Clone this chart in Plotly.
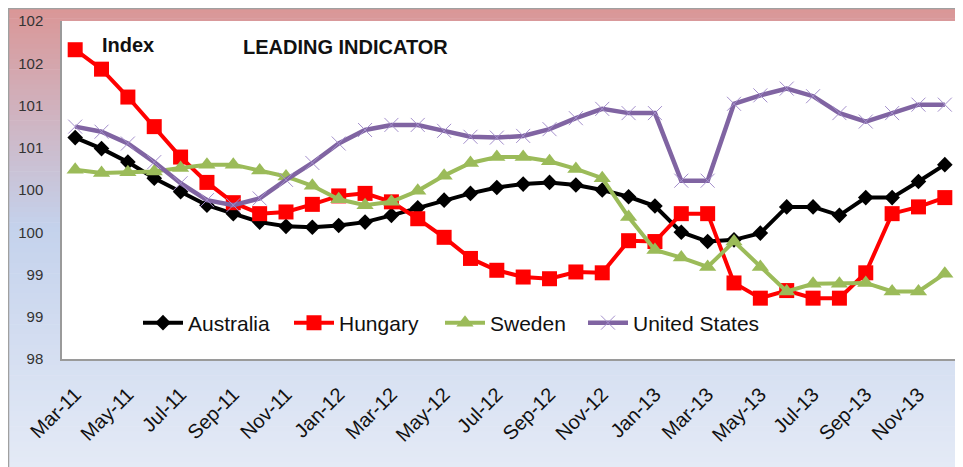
import plotly.graph_objects as go

months = ["Mar-11", "Apr-11", "May-11", "Jun-11", "Jul-11", "Aug-11", "Sep-11", "Oct-11",
          "Nov-11", "Dec-11", "Jan-12", "Feb-12", "Mar-12", "Apr-12", "May-12", "Jun-12",
          "Jul-12", "Aug-12", "Sep-12", "Oct-12", "Nov-12", "Dec-12", "Jan-13", "Feb-13",
          "Mar-13", "Apr-13", "May-13", "Jun-13", "Jul-13", "Aug-13", "Sep-13", "Oct-13",
          "Nov-13", "Dec-13"]

australia = [100.62, 100.49, 100.33, 100.14, 99.98, 99.82, 99.72, 99.62, 99.57, 99.56,
             99.58, 99.62, 99.70, 99.79, 99.88, 99.96, 100.03, 100.07, 100.09, 100.06,
             100.00, 99.92, 99.81, 99.50, 99.39, 99.41, 99.49, 99.80, 99.80, 99.70,
             99.91, 99.91, 100.10, 100.30]
hungary = [101.66, 101.43, 101.10, 100.75, 100.39, 100.09, 99.85, 99.72, 99.74, 99.83,
           99.93, 99.96, 99.86, 99.66, 99.44, 99.19, 99.05, 98.97, 98.95, 99.03,
           99.02, 99.40, 99.39, 99.72, 99.72, 98.90, 98.72, 98.81, 98.72, 98.72,
           99.02, 99.72, 99.80, 99.91]
sweden = [100.24, 100.20, 100.21, 100.22, 100.26, 100.30, 100.30, 100.23, 100.16, 100.05,
          99.89, 99.82, 99.86, 99.99, 100.17, 100.32, 100.39, 100.39, 100.34, 100.25,
          100.14, 99.68, 99.29, 99.20, 99.09, 99.39, 99.09, 98.80, 98.89, 98.89,
          98.90, 98.80, 98.80, 99.01]
united_states = [100.75, 100.69, 100.55, 100.33, 100.08, 99.88, 99.82, 99.90, 100.12, 100.32,
                 100.55, 100.71, 100.77, 100.77, 100.70, 100.63, 100.62, 100.64, 100.72, 100.85,
                 100.96, 100.91, 100.91, 100.11, 100.11, 101.02, 101.12, 101.20, 101.11, 100.91,
                 100.81, 100.91, 101.01, 101.01]

y_ticks = [98, 98.5, 99, 99.5, 100, 100.5, 101, 101.5, 102]
y_tick_text = ["98", "99", "99", "100", "100", "101", "101", "102", "102"]
x_ticks = months[::2]

# the page body adds an 8px margin, so the figure is laid out in page pixels minus OFF
OFF = 8
W, H = 963 - OFF, 467 - OFF
ML, MR, MT, MB = 62 - OFF, 5, 21 - OFF, 108
PW, PH = W - ML - MR, H - MT - MB


def px(x):
    # page x pixel -> paper coordinate
    return (x - OFF - ML) / PW


def py(y):
    # page y pixel -> paper coordinate
    return (H - MB - (y - OFF)) / PH


fig = go.Figure()

fig.add_trace(go.Scatter(x=months, y=australia, name="Australia", mode="lines+markers",
                         line=dict(color="black", width=4), legend="legend",
                         marker=dict(symbol="diamond", size=12, color="black")))
fig.add_trace(go.Scatter(x=months, y=hungary, name="Hungary", mode="lines+markers",
                         line=dict(color="#FF0000", width=4), legend="legend2",
                         marker=dict(symbol="square", size=15, color="#FF0000")))
fig.add_trace(go.Scatter(x=months, y=sweden, name="Sweden", mode="lines+markers",
                         line=dict(color="#9BBB59", width=4), legend="legend3",
                         marker=dict(symbol="triangle-up", size=15, color="#9BBB59")))
fig.add_trace(go.Scatter(x=months, y=united_states, name="United States", mode="lines+markers",
                         line=dict(color="#8064A2", width=4.5), legend="legend4",
                         marker=dict(symbol="x-thin", size=14,
                                     line=dict(color="#A48FCC", width=1))))

# background gradient (pink at top to pale blue at bottom)
stops = [(0.0, (218, 150, 150)), (0.48, (196, 210, 236)), (1.0, (228, 234, 246))]
n_bands = 90
top_px, left_px = 8, 8
shapes = []
for k in range(n_bands):
    t = (k + 0.5) / n_bands
    for (t0, c0), (t1, c1) in zip(stops[:-1], stops[1:]):
        if t0 <= t <= t1:
            f = (t - t0) / (t1 - t0)
            col = tuple(round(a + (b - a) * f) for a, b in zip(c0, c1))
            break
    y0 = top_px + (467 - top_px) * k / n_bands
    y1 = top_px + (467 - top_px) * (k + 1) / n_bands + 0.6
    shapes.append(dict(type="rect", xref="paper", yref="paper", layer="below",
                       x0=px(left_px), x1=px(975), y0=py(y1), y1=py(y0),
                       fillcolor="rgb(%d,%d,%d)" % col, line=dict(width=0)))
# white plot area
shapes.append(dict(type="rect", xref="paper", yref="paper", layer="below",
                   x0=0, x1=1, y0=0, y1=1, fillcolor="white", line=dict(width=0)))
# outer frame
shapes.append(dict(type="rect", xref="paper", yref="paper", layer="above",
                   x0=px(left_px + 0.5), x1=px(980), y0=py(480), y1=py(top_px + 0.5),
                   fillcolor="rgba(0,0,0,0)", line=dict(color="#A0A0A0", width=1.5)))


def legend_at(x_page):
    return dict(orientation="h", x=px(x_page), y=py(323), xanchor="left", yanchor="middle",
                bgcolor="rgba(0,0,0,0)", font=dict(size=21, color="#111"),
                itemwidth=40, borderwidth=0)


fig.update_layout(
    width=W, height=H,
    margin=dict(l=ML, r=MR, t=MT, b=MB),
    paper_bgcolor="white",
    plot_bgcolor="rgba(0,0,0,0)",
    font=dict(family="Arial, Liberation Sans, sans-serif", color="#1a1a1a"),
    shapes=shapes,
    showlegend=True,
    legend=legend_at(138),
    legend2=legend_at(289),
    legend3=legend_at(440),
    legend4=legend_at(583),
    annotations=[
        dict(text="<b>Index</b>", x=px(128), y=py(45), xref="paper", yref="paper",
             xanchor="center", yanchor="middle",
             showarrow=False, font=dict(size=20, color="#111")),
        dict(text="<b>LEADING INDICATOR</b>", x=px(345), y=py(47), xref="paper", yref="paper",
             xanchor="center", yanchor="middle",
             showarrow=False, font=dict(size=20, color="#111")),
    ],
)

fig.update_xaxes(type="category", categoryorder="array", categoryarray=months,
                 range=[-0.5, len(months) - 0.5], tickmode="array", tickvals=x_ticks,
                 ticktext=x_ticks, tickangle=-45, tickfont=dict(size=20, color="#111"),
                 showgrid=False, zeroline=False, showline=True, linecolor="#9A9A9A",
                 linewidth=1.5, ticks="", ticklabelstandoff=14)
fig.update_yaxes(range=[98, 102], tickmode="array", tickvals=y_ticks, ticktext=y_tick_text,
                 tickfont=dict(size=15, color="#333"), showgrid=False, zeroline=False,
                 showline=True, linecolor="#9A9A9A", linewidth=1.5, ticks="",
                 ticklabelstandoff=14)

fig.write_html("out.html")
